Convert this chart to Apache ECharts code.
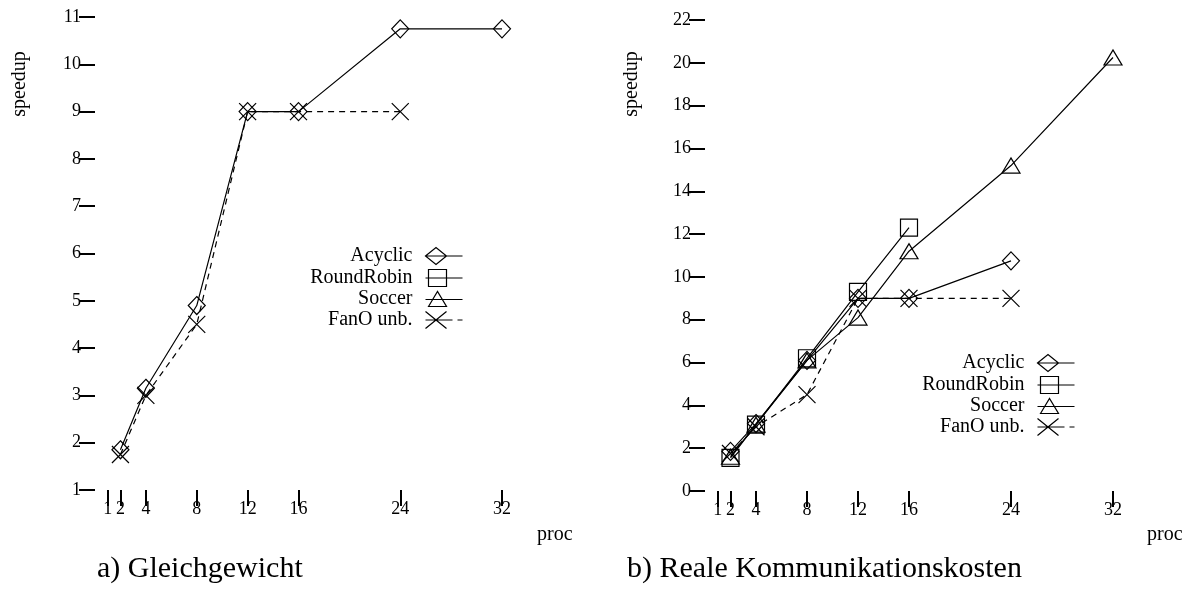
<!DOCTYPE html>
<html>
<head>
<meta charset="utf-8">
<script src="https://cdn.jsdelivr.net/npm/echarts@6/dist/echarts.min.js"></script>
<style>
  html, body { margin: 0; padding: 0; background: #fff; }
  #chart { width: 1196px; height: 589px; }
</style>
</head>
<body>
<div id="chart"></div>
<script>
// processor counts that carry a tick on the x axis
const procTicks = [1, 2, 4, 8, 12, 16, 24, 32];

// a) Gleichgewicht
const procA = [2, 4, 8, 12, 16, 24, 32];
const acyclicA = [1.85, 3.15, 4.9, 9.0, 9.0, 10.75, 10.75];
const roundRobinA = [];
const soccerA = [];
const fanoA = [1.75, 3.0, 4.5, 9.0, 9.0, 9.0];

// b) Reale Kommunikationskosten
const procB = [2, 4, 8, 12, 16, 24, 32];
const acyclicB = [1.85, 3.15, 6.1, 9.0, 9.0, 10.75];
const roundRobinB = [1.55, 3.1, 6.2, 9.3, 12.3];
const soccerB = [1.6, 3.1, 6.1, 8.1, 11.2, 15.2, 20.25];
const fanoB = [1.75, 3.0, 4.5, 9.0, 9.0, 9.0];

const seriesNames = ['Acyclic', 'RoundRobin', 'Soccer', 'FanO unb.'];
const yTicksA = { min: 1, max: 11, interval: 1 };
const yTicksB = { min: 0, max: 22, interval: 2 };

const SERIF = 'Liberation Serif';
const pairs = (xs, ys) => ys.map((y, i) => [xs[i], y]);

// plot markers (outline only, lines show through)
const markers = {
  'Acyclic': { symbol: 'diamond', symbolSize: [17, 18] },
  'RoundRobin': { symbol: 'rect', symbolSize: [17, 17] },
  'Soccer': { symbol: 'triangle', symbolSize: [18, 15] },
  'FanO unb.': { symbol: 'path://M0,0L16,16M16,0L0,16', symbolSize: [17, 17] }
};

// legend keys: marker on the left, line running to the right (37 x 18 box)
const legendIcons = {
  'Acyclic': 'path://M0,9L10.5,0.5L21,9L10.5,17.5ZM0,9L37,9',
  'RoundRobin': 'path://M3,0.5L21,0.5L21,17.5L3,17.5ZM0,9L37,9',
  'Soccer': 'path://M3,16L12,1L21,16ZM0,9L37,9',
  'FanO unb.': 'path://M0,0.5L21,17.5M0,17.5L21,0.5M0,9L27,9M32,9L37,9'
};

function lineSeries(name, idx, data) {
  const m = markers[name];
  return {
    name: name,
    type: 'line',
    xAxisIndex: idx,
    yAxisIndex: idx,
    data: data,
    symbol: m.symbol,
    symbolSize: m.symbolSize,
    showAllSymbol: true,
    animation: false,
    z: 3,
    lineStyle: {
      color: '#000',
      width: 1.2,
      type: name === 'FanO unb.' ? [6, 5] : 'solid'
    },
    itemStyle: { color: 'none', borderColor: '#000', borderWidth: 1.2 },
    emphasis: { disabled: true }
  };
}

function xAxisFor(idx) {
  return {
    type: 'value',
    gridIndex: idx,
    min: 0,
    max: 32,
    axisLine: { show: false },
    splitLine: { show: false },
    axisTick: {
      show: true, inside: false, length: 16,
      customValues: procTicks,
      lineStyle: { color: '#000', width: 2 }
    },
    axisLabel: {
      customValues: procTicks,
      margin: 10,
      color: '#000',
      fontFamily: SERIF,
      fontSize: 18
    }
  };
}

function yAxisFor(idx, t) {
  return {
    type: 'value',
    gridIndex: idx,
    min: t.min,
    max: t.max,
    interval: t.interval,
    axisLine: { show: false },
    splitLine: { show: false },
    axisTick: {
      show: true, inside: false, length: 16,
      lineStyle: { color: '#000', width: 2 }
    },
    axisLabel: {
      margin: 14,
      color: '#000',
      fontFamily: SERIF,
      fontSize: 18
    }
  };
}

function legendAt(right, top) {
  return {
    data: seriesNames.map(n => ({ name: n, icon: legendIcons[n] })),
    orient: 'vertical',
    align: 'right',
    right: right,
    top: top,
    padding: 0,
    itemWidth: 37,
    itemHeight: 18,
    itemGap: 0,
    selectedMode: false,
    itemStyle: { color: 'none', borderColor: '#000', borderWidth: 1.2 },
    textStyle: {
      color: '#000', fontFamily: SERIF, fontSize: 20,
      padding: [0, 8, 0, 0]
    }
  };
}

function text(x, y, str, size, extra) {
  return {
    type: 'text',
    x: x,
    y: y,
    silent: true,
    rotation: extra && extra.rotation || 0,
    style: {
      text: str,
      fill: '#000',
      font: size + 'px "' + SERIF + '"',
      textAlign: extra && extra.align || 'left',
      textVerticalAlign: 'middle'
    }
  };
}

const chart = echarts.init(document.getElementById('chart'));
chart.setOption({
  backgroundColor: '#fff',
  animation: false,
  grid: [
    { left: 95, top: 17, width: 407, height: 473, outerBoundsMode: 'none', containLabel: false },
    { left: 705, top: 20, width: 408, height: 471, outerBoundsMode: 'none', containLabel: false }
  ],
  xAxis: [xAxisFor(0), xAxisFor(1)],
  yAxis: [yAxisFor(0, yTicksA), yAxisFor(1, yTicksB)],
  legend: [legendAt(731, 245), legendAt(119, 352)],
  series: [
    lineSeries('Acyclic', 0, pairs(procA, acyclicA)),
    lineSeries('RoundRobin', 0, pairs(procA, roundRobinA)),
    lineSeries('Soccer', 0, pairs(procA, soccerA)),
    lineSeries('FanO unb.', 0, pairs(procA, fanoA)),
    lineSeries('Acyclic', 1, pairs(procB, acyclicB)),
    lineSeries('RoundRobin', 1, pairs(procB, roundRobinB)),
    lineSeries('Soccer', 1, pairs(procB, soccerB)),
    lineSeries('FanO unb.', 1, pairs(procB, fanoB))
  ],
  graphic: [
    text(20, 84, 'speedup', 20, { rotation: Math.PI / 2, align: 'center' }),
    text(632, 84, 'speedup', 20, { rotation: Math.PI / 2, align: 'center' }),
    text(537, 535, 'proc', 20),
    text(1147, 535, 'proc', 20),
    text(97, 569, 'a) Gleichgewicht', 30),
    text(627, 569, 'b) Reale Kommunikationskosten', 30)
  ]
});
</script>
</body>
</html>
